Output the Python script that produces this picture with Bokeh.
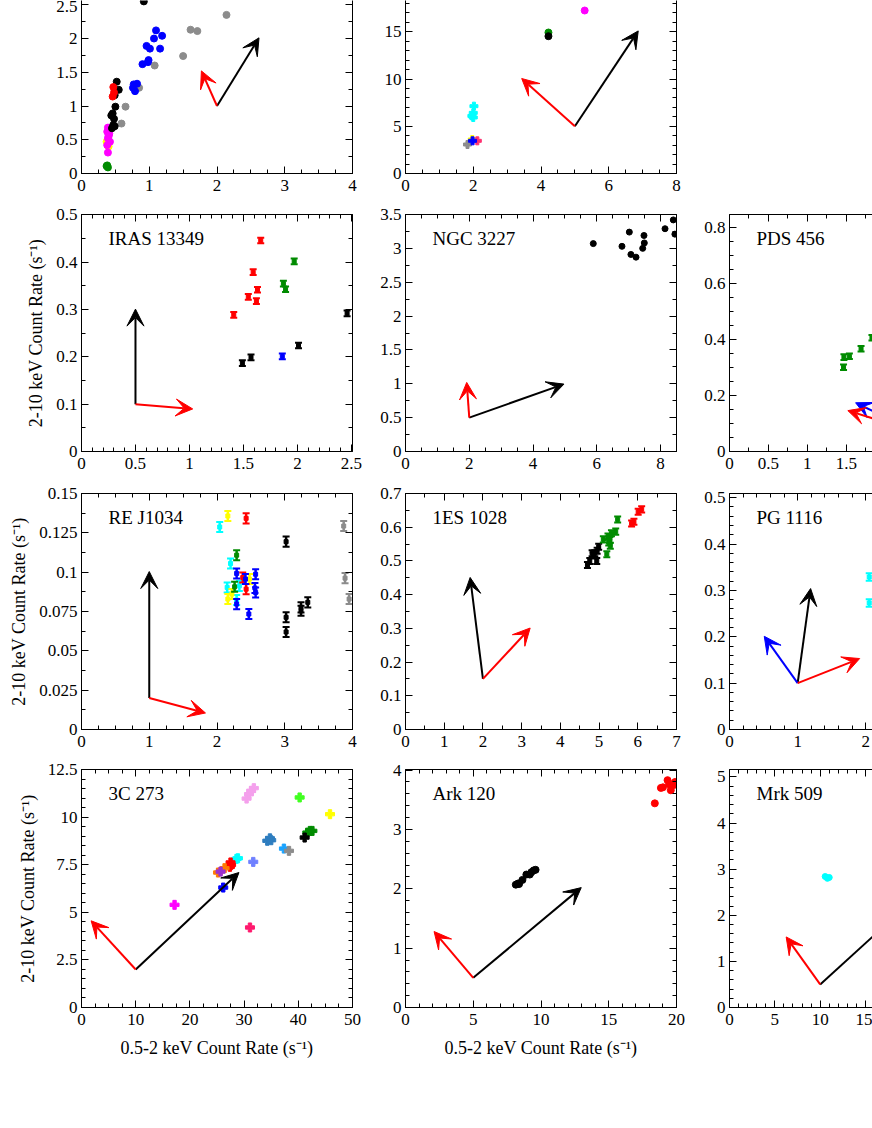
import numpy as np
from bokeh.plotting import figure
from bokeh.layouts import column, row
from bokeh.models import (Range1d, FixedTicker, LinearAxis, Label, Arrow, VeeHead,
                          CustomJSTickFormatter)
from bokeh.embed import file_html
from bokeh.resources import INLINE

FONT = "Liberation Serif"
YLABEL = "2-10 keV Count Rate (s\u207b\u00b9)"
XLABEL = "0.5-2 keV Count Rate (s\u207b\u00b9)"

BLACK, RED, GREEN, BLUE = "#000000", "#ff0000", "#008b00", "#0000ff"
GRAY, MAGENTA, CYAN, YELLOW = "#8c8c8c", "#ff00ff", "#00ffff", "#ffff00"

# ---------------- data ----------------
p11_series = [
    (GREEN, [0.38, 0.39, 0.37], [0.12, 0.09, 0.11]),
    (YELLOW, [0.37, 0.40], [0.47, 0.40]),
    (MAGENTA, [0.39, 0.38, 0.40, 0.39, 0.42, 0.38, 0.39, 0.41, 0.40],
              [0.68, 0.62, 0.57, 0.52, 0.47, 0.42, 0.31, 0.59, 0.55]),
    (GRAY, [0.65, 0.59, 0.85, 1.08, 1.50, 1.61, 1.71, 2.14],
           [0.99, 0.74, 1.27, 1.60, 1.74, 2.13, 2.11, 2.35]),
    (BLACK, [0.92, 0.52, 0.55, 0.49, 0.50, 0.46, 0.48, 0.47, 0.45, 0.44, 0.49],
            [2.55, 1.36, 1.24, 1.16, 0.99, 0.89, 0.81, 0.72, 0.67, 0.86, 0.70]),
    (RED, [0.47, 0.48, 0.46], [1.28, 1.20, 1.14]),
    (BLUE, [0.77, 0.82, 0.76, 0.79, 0.90, 0.99, 0.98, 0.96, 1.01, 1.07, 1.10, 1.19, 1.16],
           [1.32, 1.33, 1.27, 1.22, 1.62, 1.68, 1.65, 1.89, 1.85, 2.00, 2.12, 2.04, 1.85]),
]
p11_origin = (2.0, 1.0)
p11_tips = [(BLACK, (2.62, 2.01)), (RED, (1.77, 1.52))]

p12_series = [
    (MAGENTA, [5.29], [17.26]),
    (GREEN, [4.22], [14.93]),
    (BLACK, [4.22], [14.54]),
    (CYAN, [2.02, 2.00, 1.96, 2.00], [7.13, 6.42, 6.10, 5.93]),
    (YELLOW, [1.97], [3.60]),
    (GRAY, [1.83], [3.07]),
    ("#ff3070", [2.12], [3.46]),
    (BLUE, [1.98], [3.46]),
]
p12_origin = (5.0, 5.0)
p12_tips = [(BLACK, (6.87, 15.1)), (RED, (3.43, 10.06))]

iras_series = [
    (RED, [1.41, 1.545, 1.59, 1.62, 1.63, 1.66], [0.289, 0.327, 0.379, 0.318, 0.342, 0.446]),
    (GREEN, [1.87, 1.89, 1.97], [0.355, 0.343, 0.402]),
    (BLACK, [1.49, 1.57, 2.01, 2.46], [0.187, 0.199, 0.224, 0.292]),
    (BLUE, [1.86], [0.201]),
]
iras_err = 0.006
iras_origin = (0.5, 0.1)
iras_tips = [(BLACK, (0.5, 0.301)), (RED, (1.03, 0.09))]

ngc_series = [
    (BLACK, [5.89, 6.79, 7.02, 7.07, 7.23, 7.44, 7.48, 7.49, 8.14, 8.40, 8.45],
            [3.07, 3.03, 3.24, 2.91, 2.87, 3.00, 3.19, 3.08, 3.29, 3.42, 3.21]),
]
ngc_origin = (2.0, 0.5)
ngc_tips = [(BLACK, (4.97, 0.995)), (RED, (1.92, 1.02))]

pds_series = [
    (GREEN, [1.465, 1.47, 1.54, 1.69, 1.83], [0.301, 0.337, 0.340, 0.367, 0.406]),
]
pds_err = 0.01
pds_origin = (2.4, 0.07)
pds_tips = [(BLUE, (1.62, 0.174)), (RED, (1.52, 0.146))]

rej_series = [
    (CYAN, [2.04, 2.20, 2.15, 2.29, 2.33], [0.1287, 0.1055, 0.0903, 0.0823, 0.0913]),
    (YELLOW, [2.16, 2.16, 2.22, 2.48], [0.1357, 0.0829, 0.0861, 0.0956]),
    (GREEN, [2.29, 2.26], [0.1108, 0.0907]),
    (RED, [2.43, 2.38, 2.43], [0.1342, 0.0966, 0.0892]),
    (BLUE, [2.29, 2.29, 2.42, 2.47, 2.57, 2.56, 2.57],
           [0.0992, 0.0797, 0.0956, 0.0734, 0.0987, 0.0899, 0.0871]),
    (BLACK, [3.02, 3.02, 3.02, 3.24, 3.24, 3.34], [0.1194, 0.0713, 0.0620, 0.0755, 0.0776, 0.0808]),
    (GRAY, [3.87, 3.89, 3.95], [0.1293, 0.0962, 0.0829]),
]
rej_err = 0.0032
rej_origin = (1.0, 0.02)
rej_tips = [(BLACK, (1.0, 0.1004)), (RED, (1.83, 0.0105))]

es_series = [
    (BLACK, [4.70, 4.76, 4.85, 4.89, 4.95, 4.99, 4.94, 4.82],
            [0.488, 0.500, 0.516, 0.523, 0.530, 0.542, 0.500, 0.523]),
    (GREEN, [5.11, 5.20, 5.23, 5.28, 5.29, 5.32, 5.43, 5.48, 5.25],
            [0.564, 0.520, 0.572, 0.562, 0.545, 0.582, 0.587, 0.623, 0.555]),
    (RED, [5.84, 5.90, 6.01, 6.10], [0.611, 0.616, 0.646, 0.653]),
]
es_err = 0.009
es_origin = (2.0, 0.15)
es_tips = [(BLACK, (1.67, 0.451)), (RED, (3.22, 0.301))]

pg_series = [
    (CYAN, [2.05, 2.05], [0.329, 0.273]),
]
pg_err = 0.008
pg_origin = (1.0, 0.1)
pg_tips = [(BLACK, (1.19, 0.304)), (BLUE, (0.51, 0.201)), (RED, (1.91, 0.153))]

c3_series = [
    ("#f4a0ec", [30.46, 30.9, 31.3, 31.8], [10.99, 11.22, 11.4, 11.54]),
    ("#40ff20", [40.25], [11.05]),
    (YELLOW, [45.85], [10.17]),
    (GREEN, [41.66, 42.15, 42.6], [9.20, 9.29, 9.29]),
    (BLACK, [41.17], [8.94]),
    ("#2e7dbf", [34.28, 34.77, 35.0], [8.77, 8.90, 8.80]),
    ("#1aa3ff", [37.35], [8.36]),
    (GRAY, [38.28], [8.24]),
    (CYAN, [28.86, 28.6], [7.85, 7.82]),
    ("#6f80ff", [31.69], [7.66]),
    (RED, [27.5, 27.38, 27.6], [7.63, 7.40, 7.50]),
    ("#ff7a00", [26.4, 25.2], [7.33, 7.10]),
    ("#9b30d0", [25.66], [7.15]),
    (BLUE, [26.15], [6.31]),
    (MAGENTA, [17.17], [5.40]),
    ("#ff1a6e", [31.08], [4.21]),
]
c3_origin = (10.0, 2.0)
c3_tips = [(BLACK, (29.05, 7.10)), (RED, (1.78, 4.56))]

ark_series = [
    (BLACK, [8.14, 8.31, 8.38, 8.63, 8.92, 9.17, 9.29, 9.46, 9.60],
            [2.07, 2.09, 2.08, 2.15, 2.24, 2.24, 2.28, 2.31, 2.32]),
    (RED, [18.4, 18.85, 19.0, 19.34, 19.46, 19.58, 19.7, 19.83, 19.9],
          [3.44, 3.70, 3.71, 3.83, 3.76, 3.66, 3.76, 3.75, 3.80]),
]
ark_origin = (5.0, 0.5)
ark_tips = [(BLACK, (12.97, 2.02)), (RED, (2.11, 1.28))]

mrk_series = [
    (CYAN, [10.55, 10.8, 11.0], [2.84, 2.80, 2.82]),
]
mrk_origin = (10.0, 0.5)
mrk_tips = [(BLACK, (20.0, 2.29)), (RED, (6.25, 1.53))]

# ---------------- helpers ----------------
FMT = CustomJSTickFormatter(code="return String(parseFloat(tick.toFixed(6)));")


def tick_list(end, step):
    n = int(np.floor(end / step + 1e-6))
    return [round(i * step, 6) for i in range(n + 1)]


def make_axis(end, major, minor, labels, standoff):
    ax = LinearAxis(ticker=FixedTicker(ticks=tick_list(end, major),
                                       minor_ticks=tick_list(end, minor)),
                    formatter=FMT)
    ax.axis_line_color = "black"
    ax.axis_line_width = 1
    ax.major_tick_in = 7
    ax.major_tick_out = 0
    ax.minor_tick_in = 4
    ax.minor_tick_out = 0
    ax.major_tick_line_color = "black"
    ax.minor_tick_line_color = "black"
    ax.major_label_text_font = FONT
    ax.major_label_text_color = "black"
    if labels:
        ax.major_label_text_font_size = "17px"
        ax.major_label_standoff = standoff
    else:
        ax.major_label_text_font_size = "0px"
        ax.major_label_standoff = 0
    ax.axis_label_text_font = FONT
    ax.axis_label_text_font_size = "18px"
    ax.axis_label_text_font_style = "normal"
    ax.axis_label_text_color = "black"
    return ax


def make_fig(w, h, bl, br, bt, bb, xend, yend, xmaj, xmin, ymaj, ymin,
             top=True, right=True, xlabel=None, ylabel=None):
    p = figure(width=w, height=h, x_range=Range1d(0, xend), y_range=Range1d(0, yend),
               toolbar_location=None, output_backend="svg",
               x_axis_type=None, y_axis_type=None,
               min_border_left=bl, min_border_right=br,
               min_border_top=bt, min_border_bottom=bb)
    p.outline_line_color = None
    p.background_fill_color = "white"
    p.border_fill_color = "white"
    bx = make_axis(xend, xmaj, xmin, True, 6)
    if xlabel:
        bx.axis_label = xlabel
        bx.axis_label_standoff = 10
    p.add_layout(bx, "below")
    ly = make_axis(yend, ymaj, ymin, True, 4)
    if ylabel:
        ly.axis_label = ylabel
        ly.axis_label_standoff = 7
    p.add_layout(ly, "left")
    if top:
        p.add_layout(make_axis(xend, xmaj, xmin, False, 0), "above")
    if right:
        p.add_layout(make_axis(yend, ymaj, ymin, False, 0), "right")
    return p


def dots(p, series, marker="circle", size=7):
    for color, xs, ys in series:
        p.scatter(xs, ys, marker=marker, size=size, fill_color=color, line_color=color)


def ibars(p, series, err):
    for color, xs, ys in series:
        lo = [y - err for y in ys]
        hi = [y + err for y in ys]
        p.segment(xs, lo, xs, hi, line_color=color, line_width=2.5)
        p.scatter(xs, lo, marker="dash", size=7, line_color=color, line_width=2)
        p.scatter(xs, hi, marker="dash", size=7, line_color=color, line_width=2)
        p.scatter(xs, ys, marker="square", size=4, fill_color=color, line_color=color)


def arrows(p, origin, tips):
    for color, (tx, ty) in tips:
        p.add_layout(Arrow(end=VeeHead(size=17, fill_color=color, line_color=color, line_width=1),
                           x_start=origin[0], y_start=origin[1], x_end=tx, y_end=ty,
                           line_color=color, line_width=2))


def name(p, text, frame_h):
    p.add_layout(Label(x=27, y=frame_h - 24, x_units="screen", y_units="screen", text=text,
                       text_font=FONT, text_font_size="19px", text_color="black",
                       text_baseline="middle", text_align="left"))


# column geometry: (width, border_left, border_right)
C1 = (370, 81, 18)
C2 = (324, 35, 18)
C3 = (178, 35, 0)
# row geometry: (height, border_top, border_bottom)
R1 = (198, 0, 25)
R2 = (278, 16, 25)
R3 = (278, 17, 25)
R4 = (316, 15, 63)


def fig(c, r, xend, yend, xmaj, xmin, ymaj, ymin, top=True, right=True, xlabel=None, ylabel=None):
    return make_fig(c[0], r[0], c[1], c[2], r[1], r[2], xend, yend, xmaj, xmin, ymaj, ymin,
                    top=top, right=right, xlabel=xlabel, ylabel=ylabel)


# row 1
f11 = fig(C1, R1, 4.0, 2.563, 1, 0.25, 0.5, 0.25, top=False)
dots(f11, p11_series, size=7)
arrows(f11, p11_origin, p11_tips)
f11.add_layout(Label(x=-46, y=18, x_units="screen", y_units="screen", text=YLABEL,
                     angle=np.pi / 2, text_font=FONT, text_font_size="18px",
                     text_color="black", text_baseline="middle", text_align="left"))

f12 = fig(C2, R1, 8.0, 18.32, 2, 0.5, 5, 1, top=False)
dots(f12, p12_series[:3], size=7)
dots(f12, p12_series[3:], marker="plus", size=8)
arrows(f12, p12_origin, p12_tips)

# row 2
f21 = fig(C1, R2, 2.51, 0.501, 0.5, 0.1, 0.1, 0.05, ylabel=YLABEL)
ibars(f21, iras_series, iras_err)
arrows(f21, iras_origin, iras_tips)
name(f21, "IRAS 13349", 237)

f22 = fig(C2, R2, 8.5, 3.5, 2, 0.5, 0.5, 0.25)
dots(f22, ngc_series, size=6)
arrows(f22, ngc_origin, ngc_tips)
name(f22, "NGC 3227", 237)

f23 = fig(C3, R2, 1.837, 0.846, 0.5, 0.25, 0.2, 0.05, right=False)
ibars(f23, pds_series, pds_err)
arrows(f23, pds_origin, pds_tips)
name(f23, "PDS 456", 237)

# row 3
f31 = fig(C1, R3, 4.0, 0.15, 1, 0.25, 0.025, 0.0125, ylabel=YLABEL)
ibars(f31, rej_series, rej_err)
arrows(f31, rej_origin, rej_tips)
name(f31, "RE J1034", 236)

f32 = fig(C2, R3, 7.0, 0.7, 1, 0.5, 0.1, 0.05)
ibars(f32, es_series, es_err)
arrows(f32, es_origin, es_tips)
name(f32, "1ES 1028", 236)

f33 = fig(C3, R3, 2.098, 0.509, 1, 0.2, 0.1, 0.02, right=False)
ibars(f33, pg_series, pg_err)
arrows(f33, pg_origin, pg_tips)
name(f33, "PG 1116", 236)

# row 4
f41 = fig(C1, R4, 50, 12.52, 10, 2.5, 2.5, 0.5, xlabel=XLABEL, ylabel=YLABEL)
dots(f41, c3_series, marker="plus", size=9)
arrows(f41, c3_origin, c3_tips)
name(f41, "3C 273", 238)

f42 = fig(C2, R4, 20, 4.01, 5, 1, 1, 0.2, xlabel=XLABEL)
dots(f42, ark_series, size=7)
arrows(f42, ark_origin, ark_tips)
name(f42, "Ark 120", 238)

f43 = fig(C3, R4, 15.77, 5.16, 5, 1, 1, 0.2, right=False)
dots(f43, mrk_series, size=6)
arrows(f43, mrk_origin, mrk_tips)
name(f43, "Mrk 509", 238)
f43.add_layout(Label(x=33, y=-43, x_units="screen", y_units="screen", text=XLABEL,
                     text_font=FONT, text_font_size="18px", text_color="black",
                     text_baseline="middle", text_align="left"))

layout = column(row(f11, f12), row(f21, f22, f23), row(f31, f32, f33), row(f41, f42, f43))

open("out.html", "w").write(file_html(layout, INLINE))
